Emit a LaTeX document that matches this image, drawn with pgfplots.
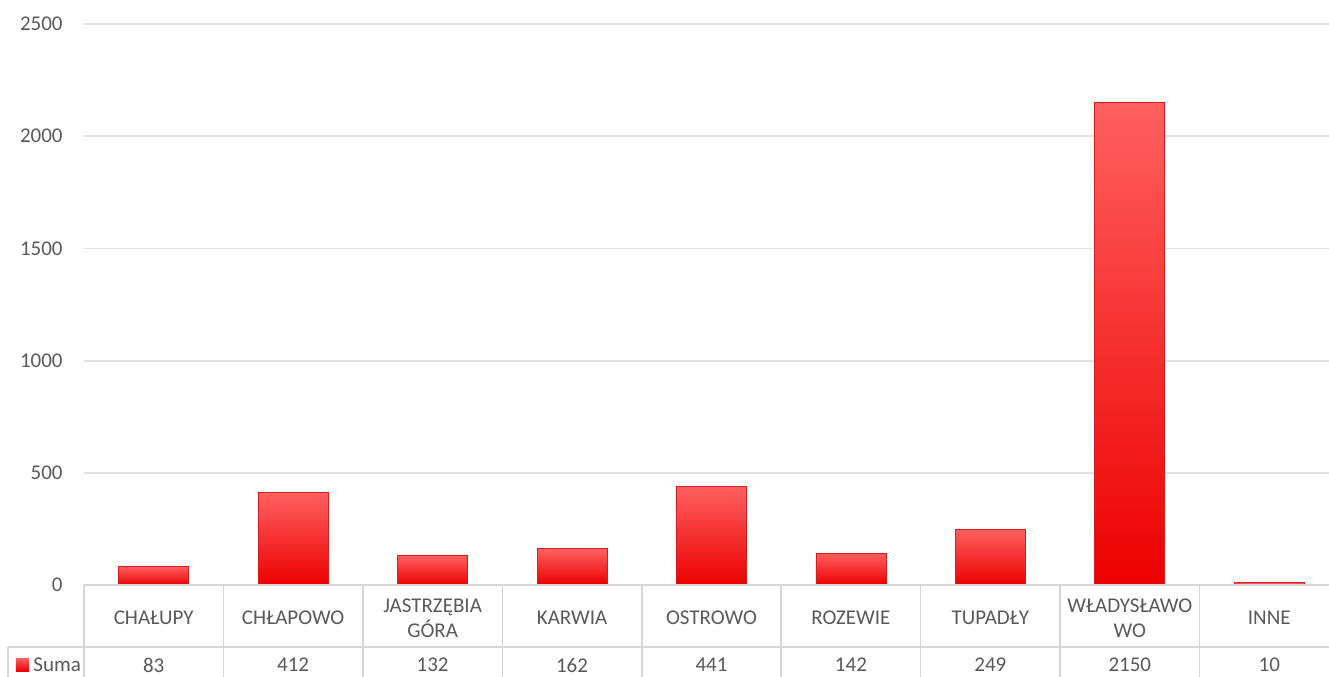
\documentclass[border=0pt]{standalone}
\usepackage{pgfplots}
\pgfplotsset{compat=1.18}
\usepackage{pgfplotstable}
\usepackage{fontspec}
\setmainfont{Carlito}
\definecolor{txt}{RGB}{89,89,89}
\definecolor{gridc}{RGB}{226,226,226}
\definecolor{tabc}{RGB}{214,214,214}
\definecolor{bartop}{RGB}{255,96,96}
\definecolor{barbot}{RGB}{236,0,0}
\definecolor{baredge}{RGB}{210,30,30}

\pgfplotstableread{
x y
0 83
1 412
2 132
3 162
4 441
5 142
6 249
7 2150
8 10
}\datatable

\pgfplotsset{barsty/.style={ybar, bar width=35pt, draw=baredge, line width=0.4pt, top color=bartop, bottom color=barbot}}
\newcommand\onebar[2]{\addplot[barsty] coordinates {(#1,#2)};}

\begin{document}
\begin{tikzpicture}
\path[use as bounding box] (-42pt,-45.5pt) rectangle (622.5pt,292.5pt);
\begin{axis}[
  scale only axis, width=627.5pt, height=280.5pt,
  xmin=-0.5, xmax=8.5, ymin=0, ymax=2500,
  axis line style={draw=none},
  xtick={0,...,8},
  xticklabels={CHAŁUPY, CHŁAPOWO, {JASTRZĘBIA\\GÓRA}, KARWIA, OSTROWO, ROZEWIE, TUPADŁY, {WŁADYSŁAWO\\WO}, INNE},
  xticklabel style={anchor=center, yshift=-16.5pt, align=center, font=\fontsize{10.5}{12.5}\selectfont, text=txt},
  ytick={0,500,...,2500},
  yticklabel style={anchor=east, inner sep=0pt, xshift=-10.5pt, font=\fontsize{10.5}{12.5}\selectfont, text=txt},
  /pgf/number format/assume math mode=true,
  /pgf/number format/1000 sep={},
  major tick length=0pt,
  ymajorgrids, grid style={gridc, line width=0.9pt},
  clip=false,
]
% one bar per plot so that each bar gets its own gradient
\onebar{0}{83}
\onebar{1}{412}
\onebar{2}{132}
\onebar{3}{162}
\onebar{4}{441}
\onebar{5}{142}
\onebar{6}{249}
\onebar{7}{2150}
\onebar{8}{10}
% value row of the data table
\addplot[draw=none, mark=*, mark size=0pt, mark options={draw opacity=0, fill opacity=0},
  nodes near coords, point meta=explicit,
  nodes near coords style={anchor=center, yshift=-40pt, font=\fontsize{10.5}{12.5}\selectfont, text=txt, text opacity=1}]
  table[x=x, y expr=0, meta=y]{\datatable};
\end{axis}
\draw[tabc, line width=0.8pt] (0,0) -- (640pt,0);
\draw[tabc, line width=0.8pt] (-38pt,-31pt) -- (640pt,-31pt);
\foreach \k in {0,...,9} \draw[tabc, line width=0.8pt] (\k*69.7222pt,0) -- (\k*69.7222pt,-50pt);
\draw[tabc, line width=0.8pt] (-38pt,-31pt) -- (-38pt,-50pt);
\fill[top color=bartop, bottom color=barbot] (-34pt,-36.5pt) rectangle (-27.5pt,-43pt);
\node[anchor=west, inner sep=0pt, font=\fontsize{10.5}{12.5}\selectfont, text=txt] at (-25.5pt,-40pt) {Suma};
\end{tikzpicture}
\end{document}
